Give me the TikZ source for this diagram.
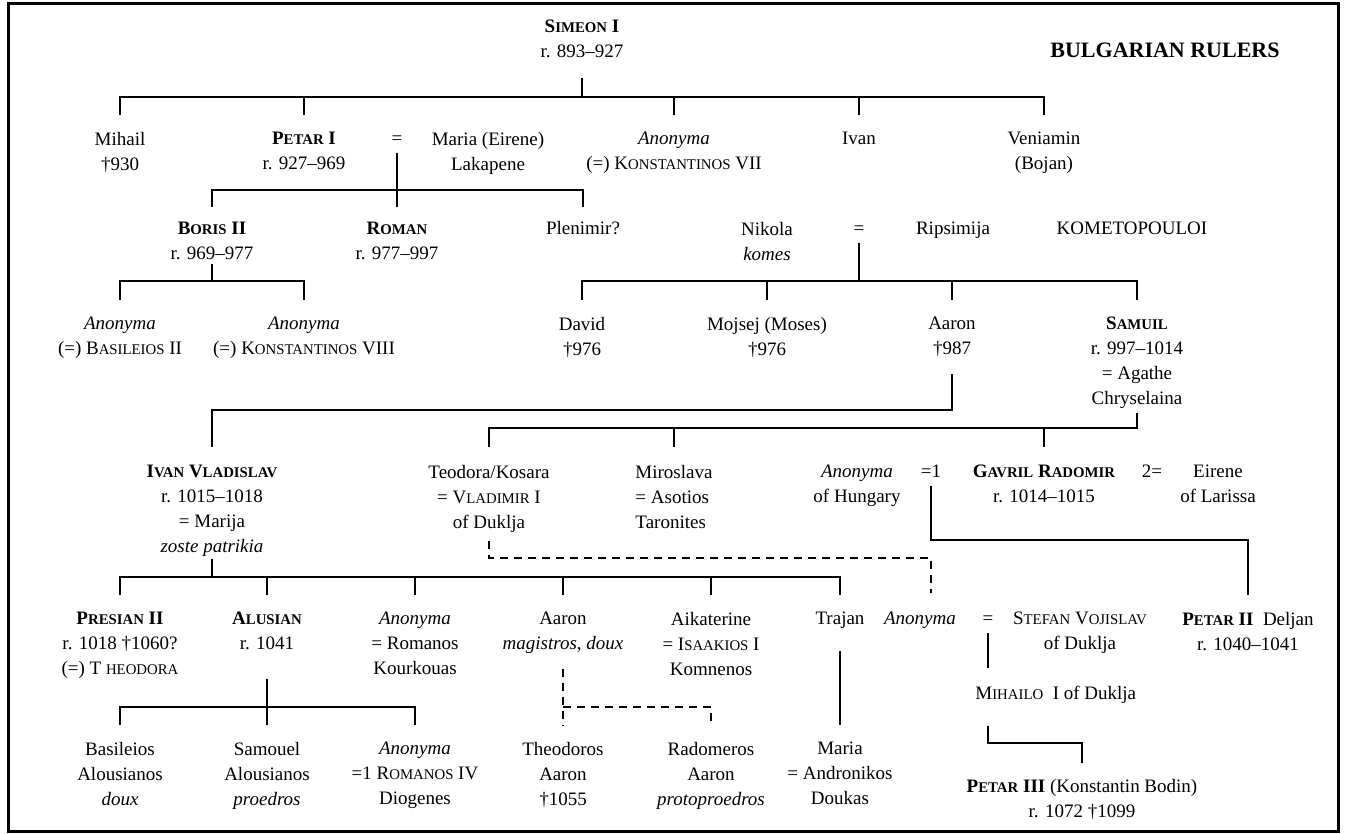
\documentclass[tikz,border=0pt]{standalone}
\usepackage{fontspec}
\setmainfont{Liberation Serif}
\newcommand\lowcaps[1]{{\fontsize{7.4pt}{8pt}\selectfont #1}}
\newcommand\rulerfont{\fontsize{9.5pt}{12.4pt}\selectfont}
\tikzset{
  person/.style={font=\rulerfont, align=center, inner sep=0pt, anchor=north},
  lone/.style={person, execute at begin node=\strut},
  kin/.style={line width=1pt},
  maybekin/.style={line width=1pt, dash pattern=on 4pt off 3pt},
}
\begin{document}
\begin{tikzpicture}[x=0.5pt, y=-0.5pt]
  \useasboundingbox (0,0) rectangle (1345,834);
  \draw[line width=1.5pt] (8,4) rectangle (1338,831);

  \node[person] (simeon) at (582,20) {\textbf{S\lowcaps{IMEON} I}\\r. 893–927};
  \node[font=\bfseries\fontsize{11pt}{13pt}\selectfont, inner sep=0pt] (title) at (1165,50) {BULGARIAN RULERS};

  \node[person] (mihail) at (120,132) {Mihail\\†930};
  \node[person] (petar) at (304,132) {\textbf{P\lowcaps{ETAR} I}\\r. 927–969};
  \node[lone] (eqpetar) at (397,127) {=};
  \node[person] (maria) at (488,132) {Maria (Eirene)\\Lakapene};
  \node[person] (anonkon) at (674,132) {\textit{Anonyma}\\(=) K\lowcaps{ONSTANTINOS} VII};
  \node[lone] (ivan) at (859,127) {Ivan};
  \node[person] (veniamin) at (1044,132) {Veniamin\\(Bojan)};

  \coordinate (simeonbar) at (582,97);
  \draw[kin] ([yshift=-10pt]simeon.south) -- (simeonbar);
  \draw[kin] ([yshift=8.5pt]mihail.north) -- (mihail.north |- simeonbar) -- (veniamin.north |- simeonbar) -- ([yshift=8.5pt]veniamin.north);
  \foreach \k in {petar, anonkon}
    \draw[kin] (\k.north |- simeonbar) -- ([yshift=8.5pt]\k.north);
  \draw[kin] (ivan.north |- simeonbar) -- ([yshift=6pt]ivan.north);

  \node[person] (boris) at (212,222) {\textbf{B\lowcaps{ORIS} II}\\r. 969–977};
  \node[person] (roman) at (397,222) {\textbf{R\lowcaps{OMAN}}\\r. 977–997};
  \node[lone] (plenimir) at (583,217) {Plenimir?};
  \node[person] (nikola) at (767,222) {Nikola\\\textit{komes}};
  \node[lone] (eqnikola) at (859,217) {=};
  \node[lone] (ripsimija) at (953,217) {Ripsimija};
  \node[lone] (kometopouloi) at (1132,217) {KOMETOPOULOI};

  \coordinate (petarbar) at (397,190);
  \draw[kin] (eqpetar.south) -- (petarbar);
  \draw[kin] ([yshift=7.5pt]boris.north) -- (boris.north |- petarbar) -- (plenimir.north |- petarbar) -- ([yshift=5pt]plenimir.north);
  \draw[kin] (petarbar) -- ([yshift=7.5pt]roman.north);

  \node[person] (anonbas) at (120,317) {\textit{Anonyma}\\(=) B\lowcaps{ASILEIOS} II};
  \node[person] (anonkonviii) at (304,317) {\textit{Anonyma}\\(=) K\lowcaps{ONSTANTINOS} VIII};
  \node[person] (david) at (582,317) {David\\†976};
  \node[person] (mojsej) at (767,317) {Mojsej (Moses)\\†976};
  \node[person] (aaron) at (952,317) {Aaron\\†987};
  \node[person] (samuil) at (1137,317) {\textbf{S\lowcaps{AMUIL}}\\r. 997–1014\\= Agathe\\Chryselaina};

  \coordinate (borisbar) at (212,281);
  \draw[kin] ([yshift=-2pt]boris.south) -- (borisbar);
  \draw[kin] ([yshift=8.5pt]anonbas.north) -- (anonbas.north |- borisbar) -- (anonkonviii.north |- borisbar) -- ([yshift=8.5pt]anonkonviii.north);
  \coordinate (nikolabar) at (859,281);
  \draw[kin] (eqnikola.south) -- (nikolabar);
  \draw[kin] ([yshift=8.5pt]david.north) -- (david.north |- nikolabar) -- (samuil.north |- nikolabar) -- ([yshift=8.5pt]samuil.north);
  \foreach \k in {mojsej, aaron}
    \draw[kin] (\k.north |- nikolabar) -- ([yshift=8.5pt]\k.north);

  \node[person] (ivanvl) at (212,465) {\textbf{I\lowcaps{VAN} V\lowcaps{LADISLAV}}\\r. 1015–1018\\= Marija\\\textit{zoste patrikia}};
  \node[person] (teodora) at (489,465) {Teodora/Kosara\\= V\lowcaps{LADIMIR} I\\of Duklja};
  \node[person, align=left] (miroslava) at (674,465) {Miroslava\\= Asotios\\Taronites};
  \node[person] (anonhun) at (857,465) {\textit{Anonyma}\\of Hungary};
  \node[lone] (eqone) at (931,460) {=1};
  \node[person] (gavril) at (1044,465) {\textbf{G\lowcaps{AVRIL} R\lowcaps{ADOMIR}}\\r. 1014–1015};
  \node[lone] (eqtwo) at (1152,460) {2=};
  \node[person] (eirene) at (1218,465) {Eirene\\of Larissa};

  \coordinate (aaronbar) at (952,410);
  \draw[kin] ([yshift=-8.3pt]aaron.south) -- (aaronbar) -| ([yshift=9pt]ivanvl.north);
  \coordinate (samuilbar) at (1137,428);
  \draw[kin] ([yshift=-2pt]samuil.south) -- (samuilbar) -| ([yshift=9pt]teodora.north);
  \foreach \k in {miroslava, gavril}
    \draw[kin] (\k.north |- samuilbar) -- ([yshift=9pt]\k.north);

  \node[person] (presian) at (120,612) {\textbf{P\lowcaps{RESIAN} II}\\r. 1018 †1060?\\(=) T \lowcaps{HEODORA}};
  \node[person] (alusian) at (267,612) {\textbf{A\lowcaps{LUSIAN}}\\r. 1041};
  \node[person] (anonrom) at (415,612) {\textit{Anonyma}\\= Romanos\\Kourkouas};
  \node[person] (aaronmag) at (563,612) {Aaron\\\textit{magistros}, \textit{doux}};
  \node[person] (aikaterine) at (711,612) {Aikaterine\\= I\lowcaps{SAAKIOS} I\\Komnenos};
  \node[lone] (trajan) at (840,607) {Trajan};
  \node[lone] (anonste) at (920,607) {\textit{Anonyma}};
  \node[lone] (eqstefan) at (988,607) {=};
  \node[person] (stefan) at (1080,612) {S\lowcaps{TEFAN} V\lowcaps{OJISLAV}\\of Duklja};
  \node[person] (petarii) at (1248,612) {\textbf{P\lowcaps{ETAR} II}\enspace Deljan\\r. 1040–1041};

  \coordinate (ivanvlbar) at (212,577);
  \draw[kin] ([yshift=-1pt]ivanvl.south) -- (ivanvlbar);
  \draw[kin] ([yshift=8.5pt]presian.north) -- (presian.north |- ivanvlbar) -- (trajan.north |- ivanvlbar) -- ([yshift=6pt]trajan.north);
  \foreach \k in {alusian, anonrom, aaronmag, aikaterine}
    \draw[kin] (\k.north |- ivanvlbar) -- ([yshift=8.5pt]\k.north);

  \coordinate (teodorabar) at (489,558);
  \coordinate (anonstetop) at ([yshift=7pt]anonste.north);
  \draw[maybekin] ([yshift=-4.4pt]teodora.south) -- (teodorabar) -| (anonstetop -| eqone);
  \coordinate (hungarybar) at (931,540);
  \draw[kin] (eqone.south) -- (hungarybar) -| ([yshift=8.5pt]petarii.north);

  \node[lone, anchor=north west] (mihailo) at (975,682) {M\lowcaps{IHAILO}\enspace I of Duklja};
  \coordinate (mihailotop) at ([yshift=7pt]mihailo.north);
  \draw[kin] (eqstefan.south) -- (eqstefan.south |- mihailotop);

  \node[person] (basileios) at (120,742) {Basileios\\Alousianos\\\textit{doux}};
  \node[person] (samouel) at (267,742) {Samouel\\Alousianos\\\textit{proedros}};
  \node[person] (anonrom4) at (415,742) {\textit{Anonyma}\\=1 R\lowcaps{OMANOS} IV\\Diogenes};
  \node[person] (theodoros) at (563,742) {Theodoros\\Aaron\\†1055};
  \node[person] (radomeros) at (711,742) {Radomeros\\Aaron\\\textit{protoproedros}};
  \node[person] (mariad) at (840,742) {Maria\\= Andronikos\\Doukas};

  \coordinate (alusianbar) at (267,707);
  \draw[kin] ([yshift=-14.3pt]alusian.south) -- (alusianbar) -- ([yshift=8.5pt]samouel.north);
  \draw[kin] ([yshift=8.5pt]basileios.north) -- (basileios.north |- alusianbar) -- (anonrom4.north |- alusianbar) -- ([yshift=8.5pt]anonrom4.north);
  \coordinate (aaronmagbar) at (563,707);
  \draw[maybekin] ([yshift=-7.3pt]aaronmag.south) -- ([yshift=8.5pt]theodoros.north);
  \draw[maybekin] (aaronmagbar) -| ([yshift=8.5pt]radomeros.north);
  \draw[kin] ([yshift=-9pt]trajan.south) -- ([yshift=8.5pt]mariad.north);

  \node[person] (petariii) at (1082,779) {\textbf{P\lowcaps{ETAR} III} (Konstantin Bodin)\\r. 1072 †1099};
  \coordinate (mihailobar) at (988,743);
  \coordinate (mihailofoot) at ([yshift=-9pt]mihailo.south);
  \draw[kin] (mihailofoot -| eqstefan) -- (mihailobar) -| ([yshift=8pt]petariii.north);
\end{tikzpicture}
\end{document}
